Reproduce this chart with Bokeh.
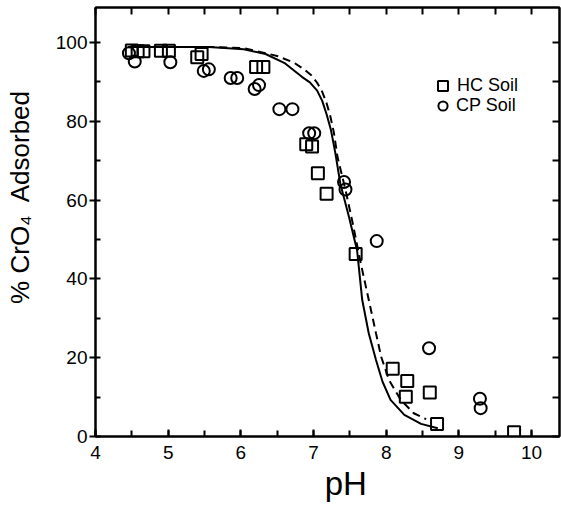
from bokeh.plotting import figure
from bokeh.models import (LinearAxis, SingleIntervalTicker, Range1d, Legend,
                          LegendItem)
from bokeh.embed import file_html
from bokeh.resources import INLINE

# ---- data ----
hc_ph = [4.50, 4.58, 4.66, 4.90, 5.01, 5.40, 5.46, 6.21, 6.31, 6.90, 6.98,
         7.06, 7.18, 7.58, 8.09, 8.29, 8.27, 8.60, 8.70, 9.76]
hc_pct = [98.0, 97.8, 97.8, 97.9, 97.9, 96.3, 97.1, 93.8, 93.8, 74.2, 73.6,
          66.8, 61.6, 46.3, 17.2, 14.1, 10.1, 11.2, 3.2, 1.1]

cp_ph = [4.46, 4.54, 5.03, 5.49, 5.56, 5.86, 5.95, 6.19, 6.25, 6.53, 6.71,
         6.94, 7.01, 7.42, 7.44, 7.87, 8.59, 9.29, 9.30]
cp_pct = [97.3, 95.2, 95.0, 92.8, 93.2, 91.0, 91.0, 88.2, 89.2, 83.1, 83.1,
          77.0, 77.0, 64.6, 62.7, 49.6, 22.4, 9.6, 7.2]

solid_ph = [4.45, 5.0, 5.56, 6.04, 6.34, 6.61, 6.84, 6.95, 7.05, 7.12, 7.18,
            7.24, 7.30, 7.37, 7.49, 7.60, 7.67, 7.76, 7.86, 7.95, 8.06, 8.25,
            8.48, 8.71]
solid_pct = [98.9, 98.9, 98.9, 98.3, 97.1, 94.7, 91.3, 89.9, 87.8, 85.2, 81.8,
             77.8, 72.0, 64.1, 55.6, 47.2, 34.7, 26.2, 19.4, 13.9, 9.3, 5.5,
             3.2, 2.1]

dash_ph = [4.45, 5.0, 5.56, 6.04, 6.50, 6.73, 6.87, 6.97, 7.05, 7.12, 7.18,
           7.23, 7.28, 7.33, 7.44, 7.54, 7.65, 7.76, 7.86, 7.93, 8.04, 8.20,
           8.38, 8.55]
dash_pct = [98.9, 98.9, 98.9, 98.6, 96.6, 94.9, 93.2, 91.7, 89.8, 87.5, 84.6,
            81.4, 77.2, 71.0, 62.6, 54.1, 44.0, 34.7, 26.2, 20.3, 14.3, 9.3,
            5.9, 4.4]

x_label = "pH"
y_label = "% CrO\u2084\u00a0 Adsorbed"
legend_labels = ["HC Soil", "CP Soil"]

FONT = "Liberation Sans"
NB = "\u00a0"

p = figure(width=561, height=507, output_backend="svg", toolbar_location=None,
           x_range=Range1d(4, 10.385), y_range=Range1d(0, 108.9),
           min_border_left=95, min_border_right=2, min_border_top=7,
           min_border_bottom=71, background_fill_color="white")
p.xgrid.visible = False
p.ygrid.visible = False
p.outline_line_color = "black"
p.outline_line_width = 2

# bottom axis
xa = p.xaxis[0]
xa.ticker = SingleIntervalTicker(interval=1, num_minor_ticks=2)
xa.major_tick_in = 7
xa.major_tick_out = 0
xa.minor_tick_in = 6
xa.minor_tick_out = 0
xa.axis_line_width = 2
xa.major_tick_line_width = 2
xa.minor_tick_line_width = 2
xa.major_label_standoff = 9
xa.major_label_text_font = FONT
xa.major_label_text_font_size = "19px"
xa.major_label_text_color = "black"
xa.axis_label = NB * 4 + x_label
xa.axis_label_standoff = 3
xa.axis_label_text_font = FONT
xa.axis_label_text_font_size = "33px"
xa.axis_label_text_font_style = "normal"
xa.axis_label_text_color = "black"

# left axis
ya = p.yaxis[0]
ya.ticker = SingleIntervalTicker(interval=20, num_minor_ticks=2)
ya.major_tick_in = 0
ya.major_tick_out = 6
ya.minor_tick_in = 5
ya.minor_tick_out = 0
ya.axis_line_width = 2
ya.major_tick_line_width = 2
ya.minor_tick_line_width = 2
ya.major_label_standoff = 2
ya.major_label_text_font = FONT
ya.major_label_text_font_size = "19px"
ya.major_label_text_color = "black"
ya.axis_label = NB * 7 + y_label
ya.axis_label_standoff = 18
ya.axis_label_text_font = FONT
ya.axis_label_text_font_size = "26px"
ya.axis_label_text_font_style = "normal"
ya.axis_label_text_color = "black"

# top and right axes: ticks only
top = LinearAxis(ticker=SingleIntervalTicker(interval=0.5, num_minor_ticks=0),
                 major_tick_in=7, major_tick_out=0, minor_tick_in=0, minor_tick_out=0,
                 axis_line_width=2, major_tick_line_width=2,
                 major_label_text_font_size="0px", major_label_standoff=0,
                 major_label_text_color=None)
right = LinearAxis(ticker=SingleIntervalTicker(interval=10, num_minor_ticks=0),
                   major_tick_in=7, major_tick_out=0, minor_tick_in=0, minor_tick_out=0,
                   axis_line_width=2, major_tick_line_width=2,
                   major_label_text_font_size="0px", major_label_standoff=0,
                   major_label_text_color=None)
p.add_layout(top, "above")
p.add_layout(right, "right")

# curves
p.line(solid_ph, solid_pct, line_color="black", line_width=2)
p.line(dash_ph, dash_pct, line_color="black", line_width=2, line_dash="8 5")

# points
r_hc = p.scatter(hc_ph, hc_pct, marker="square", size=12, fill_color=None,
                 line_color="black", line_width=2)
r_cp = p.scatter(cp_ph, cp_pct, marker="circle", size=12, fill_color=None,
                 line_color="black", line_width=2)

# legends (one item each, placed individually)
common = dict(border_line_color=None, background_fill_alpha=0, padding=0, margin=0,
              spacing=0, label_standoff=2, label_text_font=FONT,
              label_text_font_size="18px", label_text_color="black")
leg1 = Legend(items=[LegendItem(label=legend_labels[0], renderers=[r_hc])],
              location=(335, 338), glyph_width=25, glyph_height=25, **common)
leg2 = Legend(items=[LegendItem(label=legend_labels[1], renderers=[r_cp])],
              location=(336, 319), glyph_width=23, glyph_height=23, **common)
p.add_layout(leg1)
p.add_layout(leg2)

open("out.html", "w").write(file_html(p, INLINE))
